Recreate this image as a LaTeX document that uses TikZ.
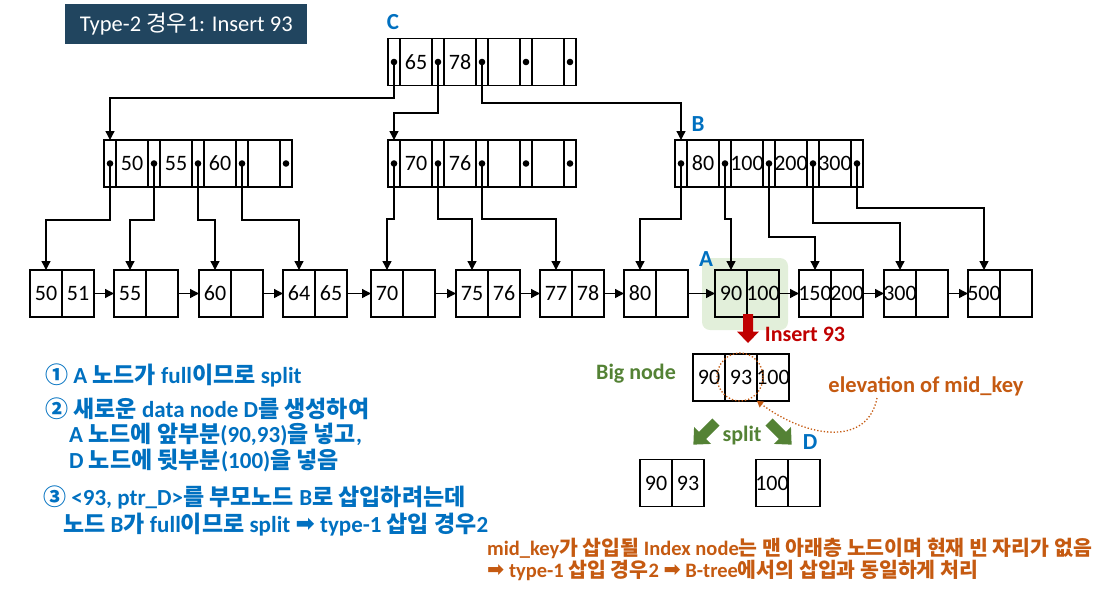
\documentclass[tikz,border=0pt]{standalone}
\usepackage{fontspec}
\setmainfont{Carlito}
\newfontfamily\kr{Noto Sans CJK KR}
\newfontfamily\dv{DejaVu Sans}
\usetikzlibrary{arrows.meta,shapes.geometric}
\newcommand\KR[1]{{\kr #1}}
\newcommand\ARR{{\dv\raisebox{0.02em}{➡}}}
\newcommand\ck[1]{\makebox[0pt]{#1}}
\definecolor{cblue}{HTML}{0070C0}
\definecolor{cgreen}{HTML}{548235}
\definecolor{corange}{HTML}{C55A11}
\definecolor{cred}{HTML}{C00000}
\definecolor{lgreen}{HTML}{E2EFDA}
\definecolor{ctitle}{HTML}{21455F}
\tikzset{
  cell/.style={draw, line width=1.3pt, minimum width=32pt, minimum height=47pt,
    inner sep=0pt, outer sep=0pt, anchor=west, font=\fontsize{22}{26}\selectfont},
  pcell/.style={cell, minimum width=12pt},
  ptr/.style={line width=1.3pt, -{Triangle[width=9pt,length=9pt]}},
  lbl/.style={font=\fontsize{23}{27}\selectfont\bfseries, text=cblue, inner sep=0pt},
  note/.style={font=\fontsize{23}{27}\selectfont\bfseries, inner sep=0pt, anchor=base west},
  onote/.style={note, text=corange, font=\fontsize{20.5}{24}\selectfont\bfseries},
  tag/.style={font=\fontsize{22}{26}\selectfont\bfseries, inner sep=0pt},
}
\newcommand\inode[7]{%
  \node[pcell] (#1-p0) at (#2,#3) {};
  \node[cell]  (#1-k1) at (#1-p0.east) {\ck{#4}};
  \node[pcell] (#1-p1) at (#1-k1.east) {};
  \node[cell]  (#1-k2) at (#1-p1.east) {\ck{#5}};
  \node[pcell] (#1-p2) at (#1-k2.east) {};
  \node[cell]  (#1-k3) at (#1-p2.east) {\ck{#6}};
  \node[pcell] (#1-p3) at (#1-k3.east) {};
  \node[cell]  (#1-k4) at (#1-p3.east) {\ck{#7}};
  \node[pcell] (#1-p4) at (#1-k4.east) {};
  \foreach \i in {0,...,4} {\fill (#1-p\i) circle (3.3pt);}
}
\newcommand\twocell[5]{%
  \node[cell] (#1-a) at (#2,#3) {\ck{#4}};
  \node[cell] (#1-b) at (#1-a.east) {\ck{#5}};
}
\newcommand\blk[8]{%
  \fill[#8, shift={(#1,#2)}, rotate=#3] (0,-#5) -- (#4-#7,-#5) -- (#4-#7,-#6) -- (#4,0)
    -- (#4-#7,#6) -- (#4-#7,#5) -- (0,#5) -- cycle;}
\begin{document}
\begin{tikzpicture}[x=1pt,y=-1pt]
\useasboundingbox (0,0) rectangle (1116,590);
% title
\node[fill=ctitle, text=white, minimum width=242pt, minimum height=40pt, inner sep=0pt,
  anchor=north west, font=\fontsize{22.5}{26}\selectfont] (title) at (65,4)
  {Type-2 \KR{경우}1: Insert 93};
% highlight of A
\fill[lgreen, rounded corners=8pt] (702,258) rectangle (788,330);
% internal nodes
\inode{C}{388}{62}{65}{78}{}{}
\inode{L}{104}{163.5}{50}{55}{60}{}
\inode{M}{388}{163.5}{70}{76}{}{}
\inode{B}{675}{163.5}{80}{100}{200}{300}
% leaves
\twocell{l1}{30}{293.5}{50}{51}
\twocell{l2}{114}{293.5}{55}{}
\twocell{l3}{199}{293.5}{60}{}
\twocell{l4}{283}{293.5}{64}{65}
\twocell{l5}{371}{293.5}{70}{}
\twocell{l6}{456}{293.5}{75}{76}
\twocell{l7}{540}{293.5}{77}{78}
\twocell{l8}{624}{293.5}{80}{}
\twocell{l9}{715}{293.5}{90}{100}
\twocell{l10}{799}{293.5}{150}{200}
\twocell{l11}{884}{293.5}{300}{}
\twocell{l12}{968}{293.5}{500}{}
% labels
\node[lbl] (Clbl) at (393,22) {C};
\node[lbl] (Blbl) at (698,124) {B};
\node[lbl] (Albl) at (706,259) {A};
% C pointers
\draw[ptr] (C-p0.center) -- (C-p0.center |- 0,98) -| (L-p0.north);
\draw[ptr] (C-p1.center) -- (C-p1.center |- 0,113) -| (M-p0.north);
\draw[ptr] (C-p2.center) -- (C-p2.center |- 0,103) -| (B-p0.north);
% L pointers
\draw[ptr] (L-p0.center) -- (L-p0.center |- 0,220) -| (l1-a.north);
\draw[ptr] (L-p1.center) -- (L-p1.center |- 0,220) -| (l2-a.north);
\draw[ptr] (L-p2.center) -- (L-p2.center |- 0,220) -| (l3-a.north);
\draw[ptr] (L-p3.center) -- (L-p3.center |- 0,220) -| (l4-a.north);
% M pointers
\draw[ptr] (M-p0.center) -- (M-p0.center |- 0,219) -| (l5-a.north);
\draw[ptr] (M-p1.center) -- (M-p1.center |- 0,219) -| (l6-a.north);
\draw[ptr] (M-p2.center) -- (M-p2.center |- 0,219) -| (l7-a.north);
% B pointers
\draw[ptr] (B-p0.center) -- (B-p0.center |- 0,219) -| (l8-a.north);
\draw[ptr] (B-p1.center) -- (B-p1.center |- 0,219) -| (l9-a.north);
\draw[ptr] (B-p2.center) -- (B-p2.center |- 0,237) -| (l10-a.north);
\draw[ptr] (B-p3.center) -- (B-p3.center |- 0,223) -| (l11-a.north);
\draw[ptr] (B-p4.center) -- (B-p4.center |- 0,208) -| (l12-a.north);
% leaf chain
\foreach \a/\b in {1/2,2/3,3/4,4/5,5/6,6/7,7/8,8/9,9/10,10/11,11/12}
  \draw[ptr] (l\a-b.east) -- (l\b-a.west);
% insert 93
\blk{748}{314}{270}{29}{5}{11}{11.5}{cred}
\node[tag, text=cred] (ins) at (805,334) {Insert 93};
% big node
\node[cell] (bn-a) at (693,377.5) {\ck{90}};
\node[cell] (bn-b) at (bn-a.east) {\ck{93}};
\node[cell] (bn-c) at (bn-b.east) {\ck{100}};
\node[tag, text=cgreen] (big) at (636,374) {Big node};
\node[draw=corange, dotted, line width=1.3pt, ellipse, minimum width=46pt, minimum height=48pt, inner sep=0pt] (mk) at (740,377) {};
\node[tag, text=corange, font=\fontsize{22.5}{26}\selectfont\bfseries] (elev) at (926,386) {elevation of mid\_key};
\coordinate (ev) at (877,398);
\draw[corange, dotted, line width=1.3pt, -{Triangle[width=7pt,length=6pt]}]
  (ev) .. controls (868,445) and (810,440) .. (bn-c.south west);
% split
\blk{716}{422}{225}{32}{5}{12}{13}{cgreen}
\blk{769}{422}{315}{32}{5}{12}{13}{cgreen}
\node[tag, text=cgreen] (split) at (742,436) {split};
\node[lbl] (Dlbl) at (810,442) {D};
\twocell{s1}{640}{483}{90}{93}
\twocell{s2}{756}{483}{100}{}
% notes (blue)
\node[note, text=cblue] (n1) at (45,383) {\KR{①} A \KR{노드가} full\KR{이므로} split};
\node[note, text=cblue] (n2) at (45,417) {\KR{②} \KR{새로운} data node D\KR{를} \KR{생성하여}};
\node[note, text=cblue] (n3) at (69,442) {A \KR{노드에} \KR{앞부분}(90,93)\KR{을} \KR{넣고},};
\node[note, text=cblue] (n4) at (69,468) {D \KR{노드에} \KR{뒷부분}(100)\KR{을} \KR{넣음}};
\node[note, text=cblue] (n5) at (43,505) {\KR{③} <93, ptr\_D>\KR{를} \KR{부모노드} B\KR{로} \KR{삽입하려는데}};
\node[note, text=cblue] (n6) at (63,532) {\KR{노드} B\KR{가} full\KR{이므로} split \ARR{} type-1 \KR{삽입} \KR{경우}2};
% notes (orange)
\node[onote] (o1) at (487,555)
  {mid\_key\KR{가} \KR{삽입될} Index node\KR{는} \KR{맨} \KR{아래층} \KR{노드이며} \KR{현재} \KR{빈} \KR{자리가} \KR{없음}};
\node[onote] (o2) at (487,577)
  {\ARR{} type-1 \KR{삽입} \KR{경우}2 \ARR{} B-tree\KR{에서의} \KR{삽입과} \KR{동일하게} \KR{처리}};
\end{tikzpicture}
\end{document}
